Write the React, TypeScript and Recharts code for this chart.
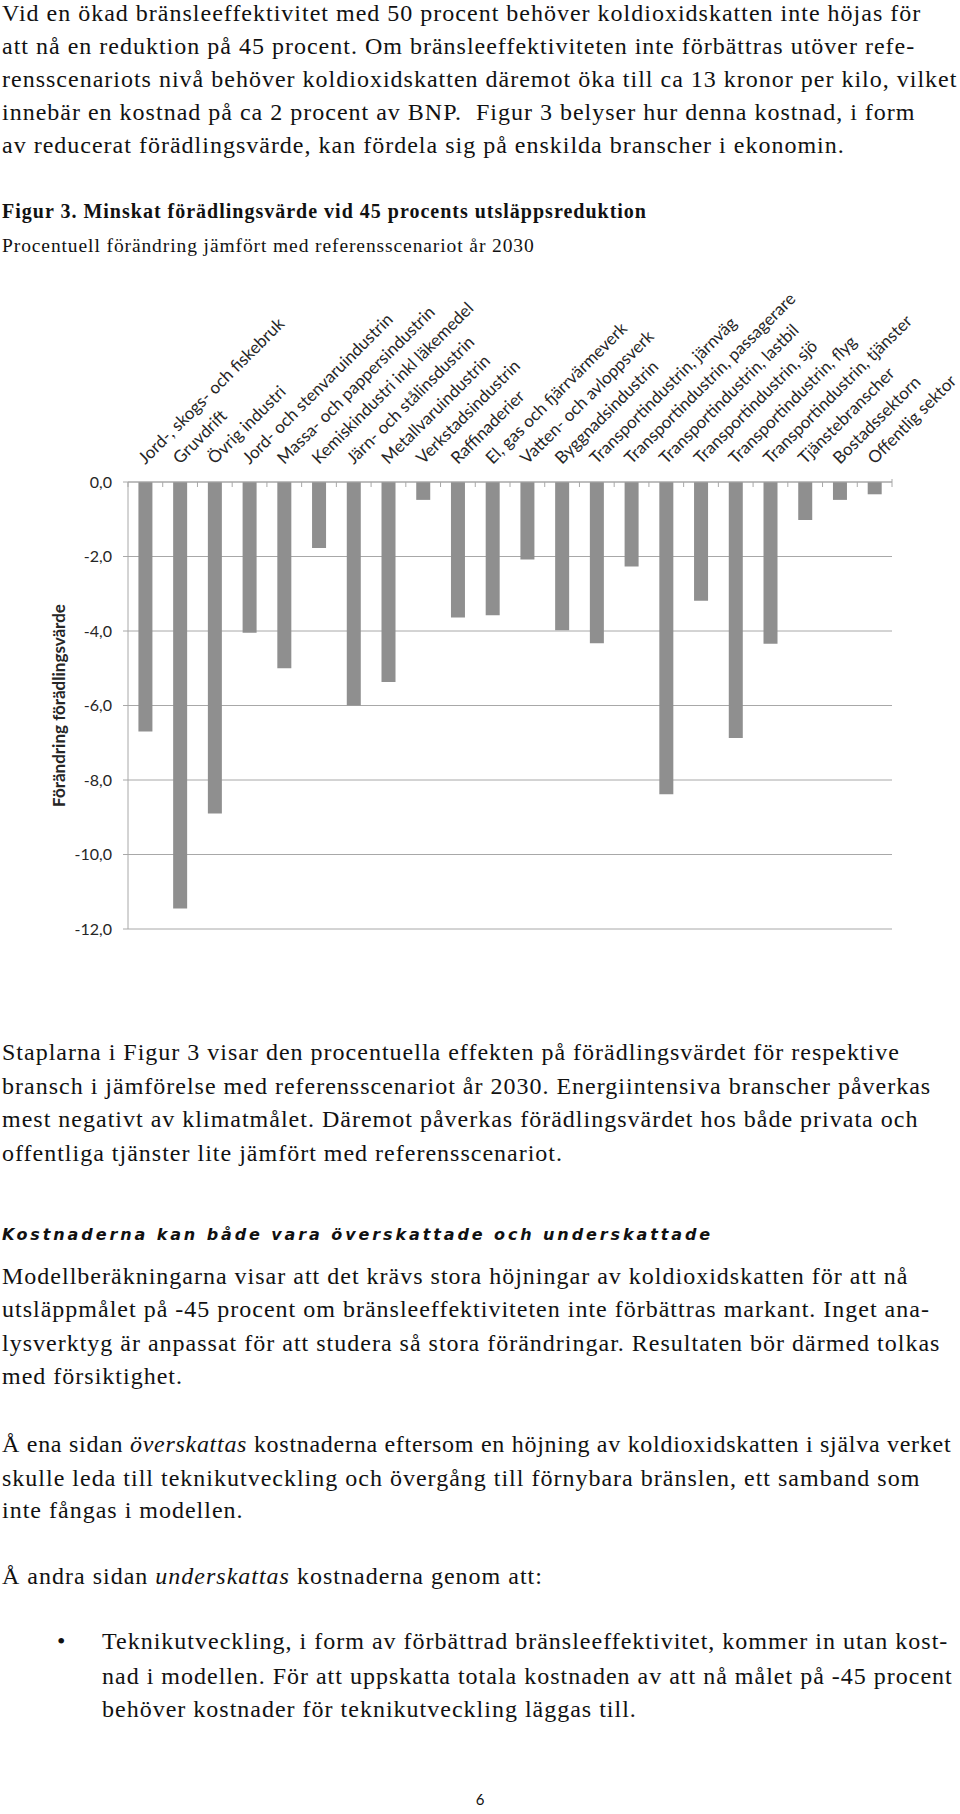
import { BarChart, Bar, XAxis, YAxis, CartesianGrid } from "recharts";

// Figur 3 – förändring i förädlingsvärde per bransch (%)
const categories = [
	"Jord-, skogs- och fiskebruk",
	"Gruvdrift",
	"Övrig industri",
	"Jord- och stenvaruindustrin",
	"Massa- och pappersindustrin",
	"Kemiskindustri inkl läkemedel",
	"Järn- och stålinsdustrin",
	"Metallvaruindustrin",
	"Verkstadsindustrin",
	"Raffinaderier",
	"El, gas och fjärrvärmeverk",
	"Vatten- och avloppsverk",
	"Byggnadsindustrin",
	"Transportindustrin, järnväg",
	"Transportindustrin, passagerare",
	"Transportindustrin, lastbil",
	"Transportindustrin, sjö",
	"Transportindustrin, flyg",
	"Transportindustrin, tjänster",
	"Tjänstebranscher",
	"Bostadssektorn",
	"Offentlig sektor",
];

const values = [
	-6.7, -11.45, -8.9, -4.05, -5.0, -1.77, -6.0, -5.37, -0.48, -3.64, -3.58,
	-2.08, -3.98, -4.33, -2.27, -8.38, -3.19, -6.87, -4.34, -1.02, -0.48, -0.33,
];

const yTicks = [0, -2, -4, -6, -8, -10, -12];

const data = categories.map((name, i) => ({ name, value: values[i] }));

const SERIF = '"Liberation Serif", "Times New Roman", serif';
const SANS = 'Lato, "Open Sans", sans-serif';
const GRID = "#a8a8a8";
const BAR = "#8f8f8f";
const LABEL = "#262626";

const fmt = (v: number) => v.toFixed(1).replace(".", ",");

// category label + tick mark at the band boundary
const CategoryTick = (props: any) => {
	const { x, y, payload, index, visibleTicksCount, width } = props;
	const half = payload?.offset || width / visibleTicksCount / 2;
	return (
		<g>
			<line x1={x - half} x2={x - half} y1={y} y2={y + 5} stroke={GRID} />
			{index === visibleTicksCount - 1 && (
				<line x1={x + half} x2={x + half} y1={y - 3} y2={y + 5} stroke={GRID} />
			)}
			<text
				x={x}
				y={y - 17}
				transform={`rotate(-45 ${x} ${y - 17})`}
				textAnchor="start"
				fontFamily={SANS}
				fontSize={17}
				fill={LABEL}
			>
				{payload.value}
			</text>
		</g>
	);
};

// one line of page text, placed by its baseline
const Line = ({ y, x = 2, size = 24, ls = 1, style, children }: any) => (
	<div
		style={{
			position: "absolute",
			left: x,
			top: y - size * 0.7375,
			fontSize: size,
			lineHeight: `${size * 0.8}px`,
			letterSpacing: ls,
			paddingRight: 6,
			whiteSpace: "nowrap",
			fontFamily: SERIF,
			color: "#111",
			...style,
		}}
	>
		{children}
	</div>
);

export default function App() {
	return (
		<div
			style={{
				position: "absolute",
				left: 0,
				top: 0,
				width: 960,
				height: 1814,
				background: "#fff",
				overflow: "hidden",
			}}
		>
			<Line y={22}>
				Vid en ökad bränsleeffektivitet med 50 procent behöver koldioxidskatten inte höjas för
			</Line>
			<Line y={55}>
				att nå en reduktion på 45 procent. Om bränsleeffektiviteten inte förbättras utöver refe-
			</Line>
			<Line y={88}>
				rensscenariots nivå behöver koldioxidskatten däremot öka till ca 13 kronor per kilo, vilket
			</Line>
			<Line y={121}>
				innebär en kostnad på ca 2 procent av BNP.&nbsp; Figur 3 belyser hur denna kostnad, i form
			</Line>
			<Line y={154}>
				av reducerat förädlingsvärde, kan fördela sig på enskilda branscher i ekonomin.
			</Line>

			<Line y={218} size={20} ls={1} style={{ fontWeight: "bold" }}>
				Figur 3. Minskat förädlingsvärde vid 45 procents utsläppsreduktion
			</Line>
			<Line y={252} size={19.5} ls={0.9}>
				Procentuell förändring jämfört med referensscenariot år 2030
			</Line>

			<div style={{ position: "absolute", left: 0, top: 260 }}>
				<BarChart
					width={960}
					height={680}
					data={data}
					margin={{ top: 0, right: 68, bottom: 11, left: 0 }}
					barCategoryGap="30%"
				>
					<CartesianGrid vertical={false} stroke={GRID} />
					<XAxis
						dataKey="name"
						orientation="top"
						height={222}
						interval={0}
						tickLine={false}
						tickSize={0}
						tickMargin={0}
						axisLine={{ stroke: GRID }}
						tick={<CategoryTick />}
					/>
					<YAxis
						width={128}
						domain={[-12, 0]}
						ticks={yTicks}
						tickFormatter={fmt}
						tickSize={5}
						tickMargin={11}
						axisLine={{ stroke: GRID }}
						tickLine={{ stroke: GRID }}
						tick={{ fill: LABEL, fontFamily: SANS, fontSize: 16 }}
						label={{
							value: "Förändring förädlingsvärde",
							angle: -90,
							position: "insideLeft",
							offset: 59,
							style: {
								textAnchor: "middle",
								fontFamily: SANS,
								fontWeight: "bold",
								fontSize: 17,
								fill: LABEL,
							},
						}}
					/>
					<Bar dataKey="value" fill={BAR} isAnimationActive={false} />
				</BarChart>
			</div>

			<Line y={1061}>
				Staplarna i Figur 3 visar den procentuella effekten på förädlingsvärdet för respektive
			</Line>
			<Line y={1095}>
				bransch i jämförelse med referensscenariot år 2030. Energiintensiva branscher påverkas
			</Line>
			<Line y={1128}>
				mest negativt av klimatmålet. Däremot påverkas förädlingsvärdet hos både privata och
			</Line>
			<Line y={1162}>offentliga tjänster lite jämfört med referensscenariot.</Line>

			<Line
				y={1241}
				size={16}
				ls={2.9}
				style={{
					fontFamily: '"DejaVu Sans", Verdana, sans-serif',
					fontWeight: "bold",
					fontStyle: "italic",
				}}
			>
				Kostnaderna kan både vara överskattade och underskattade
			</Line>

			<Line y={1285}>
				Modellberäkningarna visar att det krävs stora höjningar av koldioxidskatten för att nå
			</Line>
			<Line y={1318}>
				utsläppmålet på -45 procent om bränsleeffektiviteten inte förbättras markant. Inget ana-
			</Line>
			<Line y={1352}>
				lysverktyg är anpassat för att studera så stora förändringar. Resultaten bör därmed tolkas
			</Line>
			<Line y={1385}>med försiktighet.</Line>

			<Line y={1453} ls={0.72} style={{ paddingRight: 0 }}>
				Å ena sidan <i>överskattas</i> kostnaderna eftersom en höjning av koldioxidskatten i själva verket
			</Line>
			<Line y={1487}>
				skulle leda till teknikutveckling och övergång till förnybara bränslen, ett samband som
			</Line>
			<Line y={1519}>inte fångas i modellen.</Line>

			<Line y={1585}>
				Å andra sidan <i>underskattas</i> kostnaderna genom att:
			</Line>

			<Line y={1650} x={57} ls={0}>
				•
			</Line>
			<Line y={1650} x={102}>
				Teknikutveckling, i form av förbättrad bränsleeffektivitet, kommer in utan kost-
			</Line>
			<Line y={1685} x={102}>
				nad i modellen. För att uppskatta totala kostnaden av att nå målet på -45 procent
			</Line>
			<Line y={1718} x={102}>
				behöver kostnader för teknikutveckling läggas till.
			</Line>

			<Line
				y={1804}
				x={0}
				size={15}
				ls={0}
				style={{ width: 960, paddingRight: 0, textAlign: "center", fontFamily: SANS }}
			>
				6
			</Line>
		</div>
	);
}
